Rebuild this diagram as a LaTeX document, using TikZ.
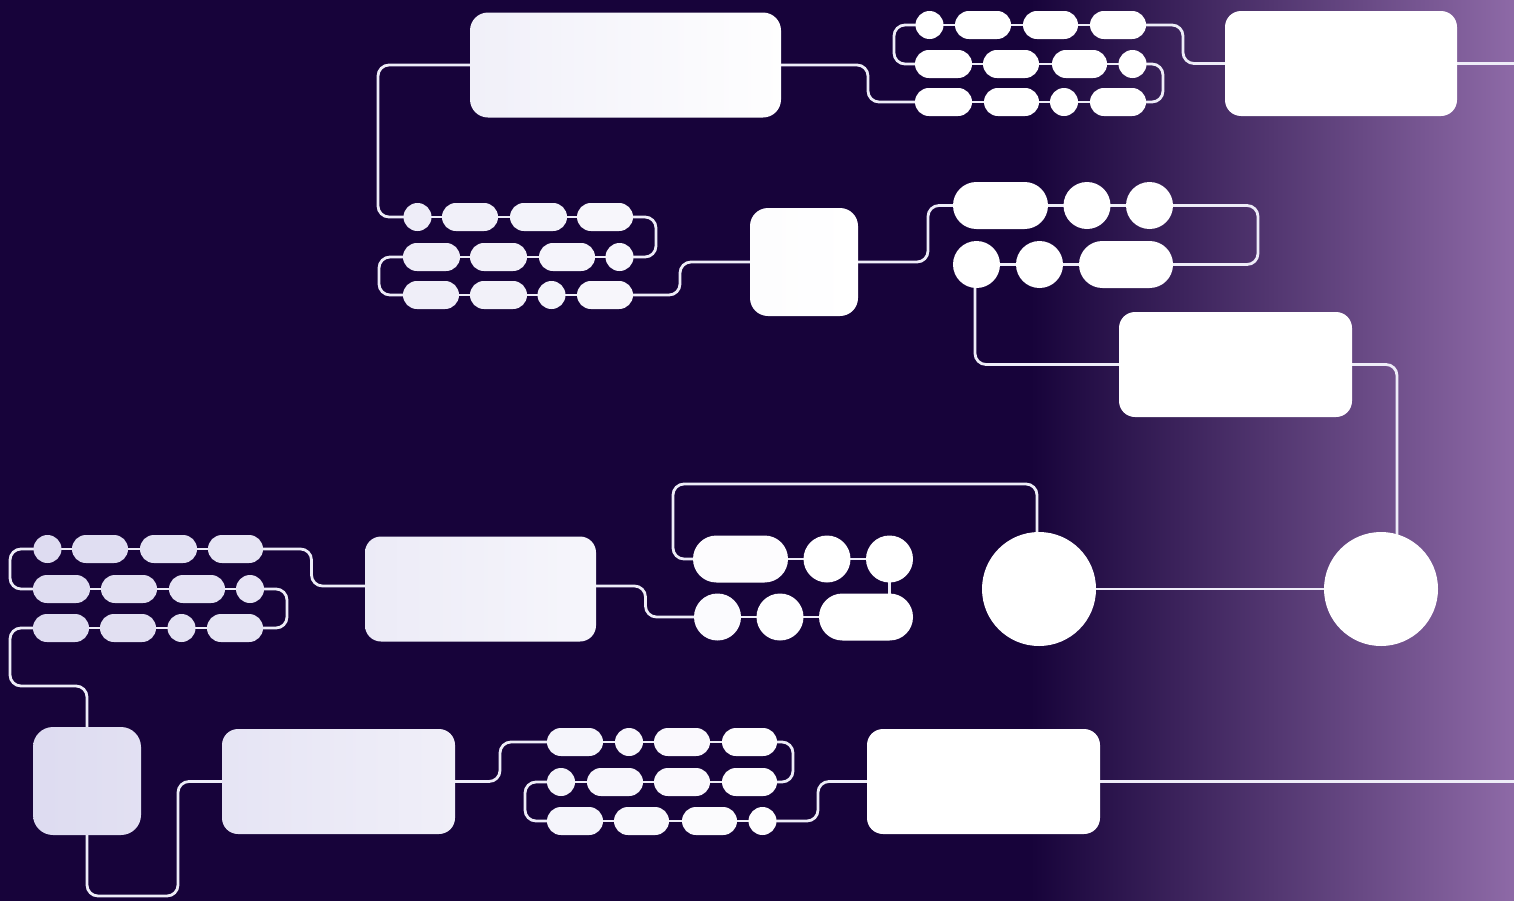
\documentclass[tikz,border=0pt]{standalone}
\usetikzlibrary{calc}
\definecolor{bgdark}{HTML}{17033A}
\definecolor{bglight}{HTML}{8E6AA7}
\definecolor{lav}{HTML}{DCDAF0}
\definecolor{wire}{HTML}{EEEDF8}
\pgfdeclarelayer{back}
\pgfsetlayers{back,main}
\tikzset{
  shp/.style={inner sep=0pt, outer sep=0pt, draw=none},
  pill/.style={shp, rectangle, rounded corners=13.9pt, minimum height=28pt, minimum width=#1},
  dot/.style={shp, circle, minimum size=28pt},
  bpill/.style={shp, rectangle, rounded corners=23.4pt, minimum height=47pt, minimum width=#1},
  bdot/.style={shp, circle, minimum size=47pt},
  bigdot/.style={shp, circle, minimum size=114pt, fill=white},
  box/.style={shp, rectangle, rounded corners=16pt},
  tn/.style={fill=white!#1!lav},
  gr/.style 2 args={left color=white!#1!lav, right color=white!#2!lav},
  wirestyle/.style={draw=wire, line width=2.8pt, rounded corners=11pt},
}
\begin{document}
\begin{tikzpicture}[x=1pt, y=-1pt]
\useasboundingbox (0,0) rectangle (1514,900);
\begin{pgfonlayer}{back}
  \fill[bgdark] (-2,-2) rectangle (1516,902);
  \shade[left color=bgdark, right color=bglight] (1030,-2) rectangle (1516,902);
\end{pgfonlayer}

% big boxes
\node[box, rounded corners=18pt, minimum width=311pt, minimum height=105pt, gr={59}{97}] (A) at (625.5,65) {};
\node[box, minimum width=232pt, minimum height=105pt, fill=white] (B) at (1341,63.5) {};
\node[box, rounded corners=18pt, minimum width=108pt, minimum height=108pt, gr={94}{100}] (C) at (804,262) {};
\node[box, minimum width=233pt, minimum height=105pt, fill=white] (D) at (1235.5,364.5) {};
\node[bigdot] (E) at (1039,589) {};
\node[bigdot] (F) at (1381,589) {};
\node[box, minimum width=231pt, minimum height=105pt, gr={46}{75}] (G) at (480.5,589) {};
\node[box, rounded corners=20pt, minimum width=108pt, minimum height=108pt, gr={4}{18}] (H) at (87,781) {};
\node[box, minimum width=233pt, minimum height=105pt, gr={28}{57}] (I) at (338.5,781.5) {};
\node[box, minimum width=233pt, minimum height=105pt, fill=white] (J) at (983.5,781.5) {};

% chain 1
\node[dot, fill=white] (c1a1) at (929.5,25) {};
\node[pill=56pt, fill=white] (c1a2) at (983,25) {};
\node[pill=55pt, fill=white] (c1a3) at (1050.5,25) {};
\node[pill=56pt, fill=white] (c1a4) at (1118,25) {};
\node[pill=57pt, fill=white] (c1b1) at (943.5,64) {};
\node[pill=56pt, fill=white] (c1b2) at (1011,64) {};
\node[pill=55pt, fill=white] (c1b3) at (1079.5,64) {};
\node[dot, fill=white] (c1b4) at (1132.5,64) {};
\node[pill=57pt, fill=white] (c1c1) at (943.5,102) {};
\node[pill=55pt, fill=white] (c1c2) at (1011.5,102) {};
\node[dot, fill=white] (c1c3) at (1064,102) {};
\node[pill=56pt, fill=white] (c1c4) at (1118,102) {};

% chain 2
\node[dot, tn=52] (c2a1) at (417.5,217) {};
\node[pill=56pt, tn=59] (c2a2) at (470,217) {};
\node[pill=57pt, tn=67] (c2a3) at (538.5,217) {};
\node[pill=56pt, tn=76] (c2a4) at (605,217) {};
\node[pill=57pt, tn=54] (c2b1) at (431.5,257) {};
\node[pill=57pt, tn=62] (c2b2) at (498.5,257) {};
\node[pill=56pt, tn=71] (c2b3) at (567,257) {};
\node[dot, tn=77] (c2b4) at (619.5,257) {};
\node[pill=56pt, tn=54] (c2c1) at (431,295) {};
\node[pill=57pt, tn=62] (c2c2) at (498.5,295) {};
\node[dot, tn=69] (c2c3) at (551.5,295) {};
\node[pill=56pt, tn=76] (c2c4) at (605,295) {};

% chain 3
\node[bpill=95pt, fill=white] (c3a1) at (1000.5,205.5) {};
\node[bdot, fill=white] (c3a2) at (1087,205.5) {};
\node[bdot, fill=white] (c3a3) at (1149.5,205.5) {};
\node[bdot, fill=white] (c3b1) at (976.5,264.5) {};
\node[bdot, fill=white] (c3b2) at (1039.5,264.5) {};
\node[bpill=94pt, fill=white] (c3b3) at (1126,264.5) {};

% chain 4
\node[bpill=95pt, tn=93] (c4a1) at (740.5,559) {};
\node[bdot, fill=white] (c4a2) at (827,559) {};
\node[bdot, fill=white] (c4a3) at (889.5,559) {};
\node[bdot, tn=90] (c4b1) at (717.5,617) {};
\node[bdot, tn=97] (c4b2) at (780,617) {};
\node[bpill=94pt, fill=white] (c4b3) at (866,617) {};

% chain 5
\node[dot, tn=6] (c5a1) at (47.5,549) {};
\node[pill=56pt, tn=12] (c5a2) at (100,549) {};
\node[pill=57pt, tn=21] (c5a3) at (168.5,549) {};
\node[pill=55pt, tn=29] (c5a4) at (235.5,549) {};
\node[pill=57pt, tn=8] (c5b1) at (61.5,589) {};
\node[pill=56pt, tn=16] (c5b2) at (129,589) {};
\node[pill=56pt, tn=25] (c5b3) at (197,589) {};
\node[dot, tn=31] (c5b4) at (250,589) {};
\node[pill=56pt, tn=8] (c5c1) at (61,628) {};
\node[pill=56pt, tn=16] (c5c2) at (128,628) {};
\node[dot, tn=23] (c5c3) at (181.5,628) {};
\node[pill=56pt, tn=29] (c5c4) at (235,628) {};

% chain 6
\node[pill=56pt, tn=72] (c6a1) at (575,742) {};
\node[dot, tn=79] (c6a2) at (629,742) {};
\node[pill=56pt, tn=85] (c6a3) at (682,742) {};
\node[pill=55pt, tn=94] (c6a4) at (749.5,742) {};
\node[dot, tn=70] (c6b1) at (561,782) {};
\node[pill=56pt, tn=77] (c6b2) at (615,782) {};
\node[pill=56pt, tn=85] (c6b3) at (682,782) {};
\node[pill=55pt, tn=94] (c6b4) at (749.5,782) {};
\node[pill=56pt, tn=72] (c6c1) at (575,821) {};
\node[pill=55pt, tn=80] (c6c2) at (641.5,821) {};
\node[pill=55pt, tn=89] (c6c3) at (709.5,821) {};
\node[dot, tn=95] (c6c4) at (762.5,821) {};

\coordinate (edgeB) at (1516,63.5);
\coordinate (edgeJ) at (1516,781.5);
\coordinate (loopE) at (673,484);
\coordinate (turnH) at (10,686);
\coordinate (baseH) at (178,896);

\begin{pgfonlayer}{back}
\begin{scope}[wirestyle]
  % chain 1
  \draw (c1a1.center) -- (c1a2.center) -- (c1a3.center) -- (c1a4.center);
  \draw (c1b1.center) -- (c1b2.center) -- (c1b3.center) -- (c1b4.center);
  \draw (c1c1.center) -- (c1c2.center) -- (c1c3.center) -- (c1c4.center);
  \draw (c1a1.center) -- ++(-35.5,0) |- (c1b1.center);
  \draw (c1b4.center) -- ++(30.5,0) |- (c1c4.center);
  \draw (c1a4.center) -- ++(65,0) |- (B.center);
  \draw (A.center) -- ++(242.5,0) |- (c1c1.center);
  \draw (B.center) -- (edgeB);
  % chain 2
  \draw (A.center) -- ++(-247.5,0) |- (c2a1.center);
  \draw (c2a1.center) -- (c2a2.center) -- (c2a3.center) -- (c2a4.center);
  \draw (c2b1.center) -- (c2b2.center) -- (c2b3.center) -- (c2b4.center);
  \draw (c2c1.center) -- (c2c2.center) -- (c2c3.center) -- (c2c4.center);
  \draw (c2a4.center) -- ++(51,0) |- (c2b4.center);
  \draw (c2b1.center) -- ++(-52.5,0) |- (c2c1.center);
  \draw (c2c4.center) -- ++(75,0) |- (C.center);
  % chain 3
  \draw (C.center) -- ++(124,0) |- (c3a1.center);
  \draw (c3a1.center) -- (c3a2.center) -- (c3a3.center);
  \draw (c3b1.center) -- (c3b2.center) -- (c3b3.center);
  \draw (c3a3.center) -- ++(108.5,0) |- (c3b3.center);
  \draw (c3b1.center) ++(-1.5,0) |- (D.center);
  \draw (D.center) -| ($(F.center)+(16,0)$);
  \draw (E.center) -- (F.center);
  % chain 4
  \draw (E.center) ++(-2,0) |- (loopE) |- (c4a1.center);
  \draw (c4a1.center) -- (c4a2.center) -- (c4a3.center);
  \draw (c4b1.center) -- (c4b2.center) -- (c4b3.center);
  \draw (c4a3.center) -- (c4a3.center |- c4b3.center);
  \draw (G.center) ++(0,-3) -- ++(165,0) |- (c4b1.center);
  % chain 5
  \draw (G.center) ++(0,-3) -- ++(-169,0) |- (c5a4.center);
  \draw (c5a1.center) -- (c5a2.center) -- (c5a3.center) -- (c5a4.center);
  \draw (c5b1.center) -- (c5b2.center) -- (c5b3.center) -- (c5b4.center);
  \draw (c5c1.center) -- (c5c2.center) -- (c5c3.center) -- (c5c4.center);
  \draw (c5a1.center) -- ++(-37.5,0) |- (c5b1.center);
  \draw (c5b4.center) -- ++(37,0) |- (c5c4.center);
  \draw (c5c1.center) -| (turnH) -| (H.center);
  % bottom row
  \draw (H.center) |- (baseH) |- (I.center);
  \draw (I.center) -- ++(161.5,0) |- (c6a1.center);
  \draw (c6a1.center) -- (c6a2.center) -- (c6a3.center) -- (c6a4.center);
  \draw (c6b1.center) -- (c6b2.center) -- (c6b3.center) -- (c6b4.center);
  \draw (c6c1.center) -- (c6c2.center) -- (c6c3.center) -- (c6c4.center);
  \draw (c6a4.center) -- ++(43.5,0) |- (c6b4.center);
  \draw (c6b1.center) -- ++(-36,0) |- (c6c1.center);
  \draw (c6c4.center) -- ++(55.5,0) |- (J.center);
  \draw (J.center) -- (edgeJ);
\end{scope}
\end{pgfonlayer}
\end{tikzpicture}
\end{document}
